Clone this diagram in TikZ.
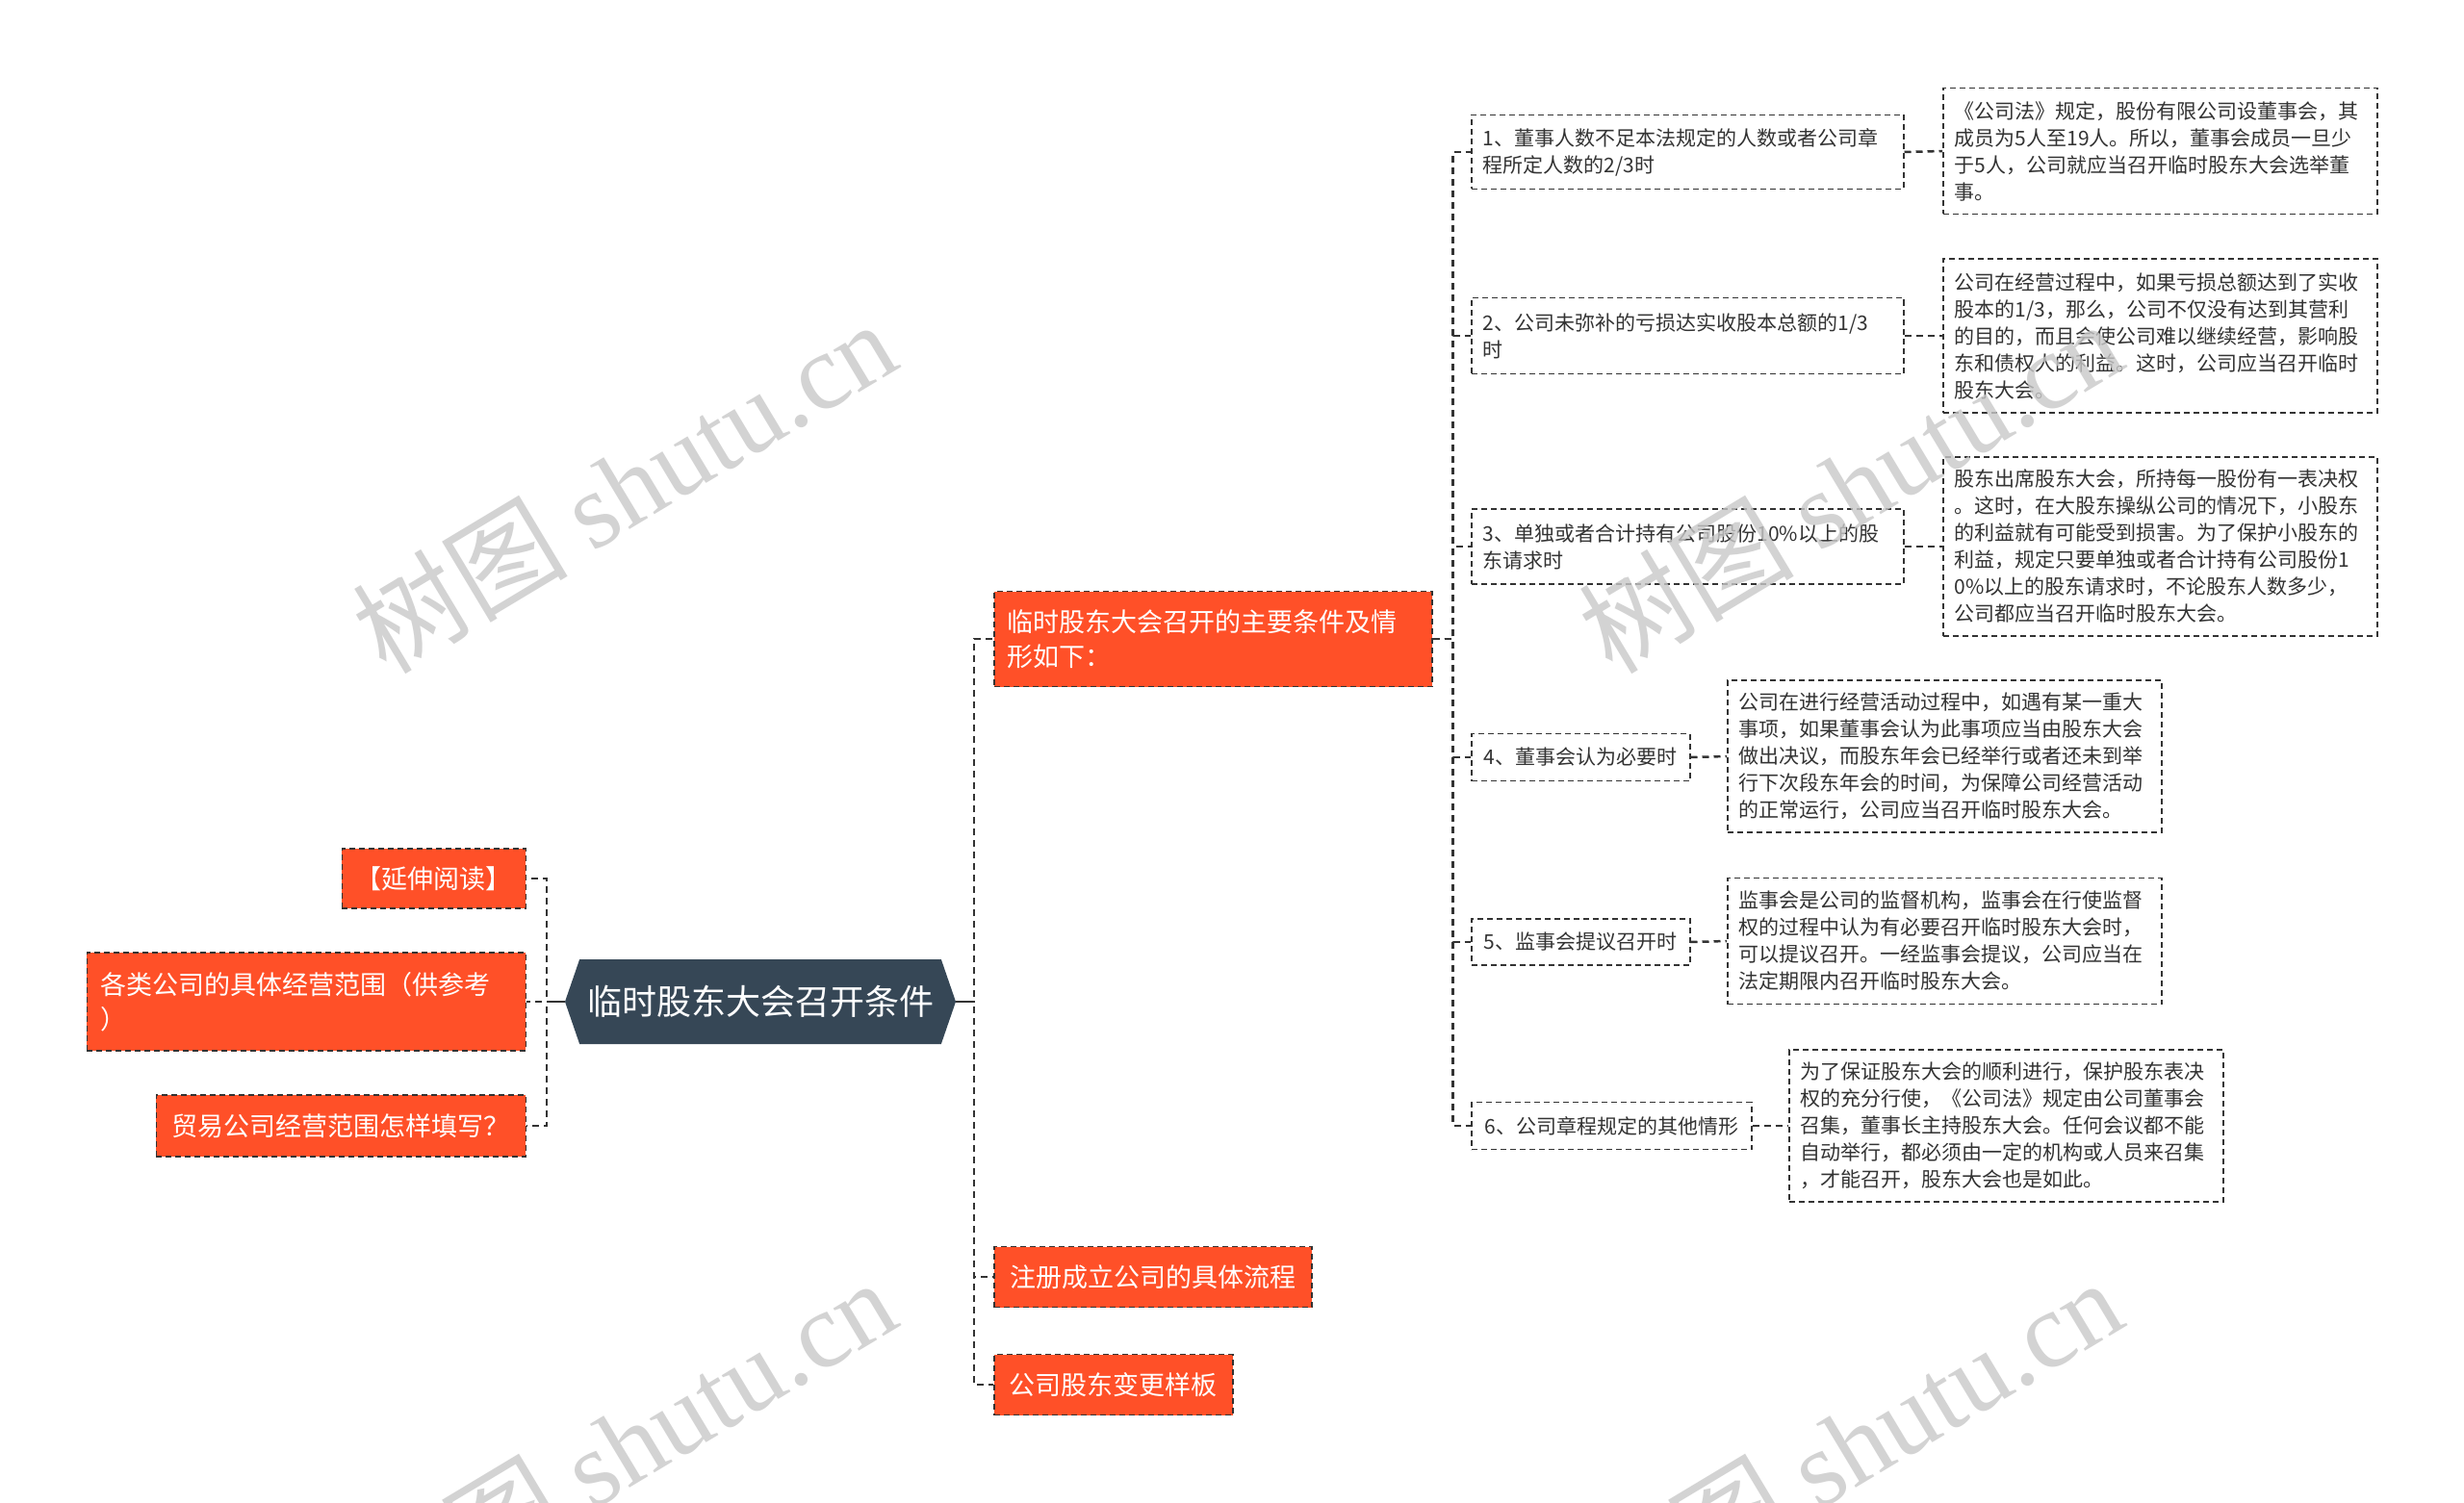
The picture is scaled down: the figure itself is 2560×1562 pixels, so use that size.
\documentclass[tikz,border=0pt]{standalone}
\usepackage{fontspec}
\setmainfont{Noto Sans CJK SC}
\newfontfamily\marklatin{Liberation Serif}
\usepackage{tikz}
\usetikzlibrary{shapes.symbols}
\definecolor{rootslate}{RGB}{54,71,86}
\definecolor{topicorange}{RGB}{255,80,40}
\definecolor{linegray}{RGB}{51,51,51}
\definecolor{textgray}{RGB}{51,51,51}
\definecolor{markgray}{RGB}{200,200,200}

\tikzset{
  rootbox/.style={signal, signal to=west and east, signal pointer angle=142,
        fill=rootslate, text=white, font=\fontsize{36}{44}\selectfont,
        minimum width=406pt, minimum height=88pt, inner xsep=0pt},
  topicbox/.style={rectangle, draw=linegray, line width=1.5pt,
        dash pattern=on 6pt off 4pt, fill=topicorange, text=white,
        font=\fontsize{27}{36}\selectfont, align=left, inner xsep=14pt, inner ysep=0pt},
  condbox/.style={rectangle, draw=linegray, line width=1.5pt,
        dash pattern=on 6pt off 4pt, fill=white, text=textgray,
        font=\fontsize{21}{28}\selectfont, align=left, inner xsep=12pt, inner ysep=0pt},
  link/.style={draw=linegray, line width=2.5pt, dash pattern=on 7pt off 5pt},
  markbox/.style={text=markgray, opacity=0.8, rotate=31,
        font=\fontsize{112}{112}\selectfont}
}

\begin{document}
\begin{tikzpicture}[x=1pt, y=-1pt]
  \fill[white] (0,0) rectangle (2560,1562);
  \useasboundingbox (0,0) rectangle (2560,1562);

  % centre
  \node[rootbox] (root) at (790,1041) {临时股东大会召开条件};

  % left side
  \node[topicbox, anchor=east, minimum width=191pt, minimum height=62pt] (more) at (547,913)
        {【延伸阅读】};
  \node[topicbox, anchor=east, text width=428pt, minimum height=102pt] (scope) at (547,1041)
        {各类公司的具体经营范围（供参考\\）};
  \node[topicbox, anchor=east, minimum width=384pt, minimum height=64pt] (trade) at (547,1170)
        {贸易公司经营范围怎样填写？};

  % right side
  \node[topicbox, anchor=west, text width=427pt, minimum height=99pt] (cond) at (1032,664)
        {临时股东大会召开的主要条件及情\\形如下：};
  \node[topicbox, anchor=west, minimum width=330pt, minimum height=63pt] (setup) at (1032,1327)
        {注册成立公司的具体流程};
  \node[topicbox, anchor=west, minimum width=248pt, minimum height=63pt] (change) at (1032,1439)
        {公司股东变更样板};

  % conditions
  \node[condbox, anchor=west, text width=425pt, minimum height=77pt] (c1) at (1528,158)
        {1、董事人数不足本法规定的人数或者公司章\\程所定人数的2/3时};
  \node[condbox, anchor=west, text width=425pt, minimum height=79pt] (c2) at (1528,349)
        {2、公司未弥补的亏损达实收股本总额的1/3\\时};
  \node[condbox, anchor=west, text width=425pt, minimum height=78pt] (c3) at (1528,568)
        {3、单独或者合计持有公司股份10\%以上的股\\东请求时};
  \node[condbox, anchor=west, minimum width=227pt, minimum height=49pt] (c4) at (1528,787)
        {4、董事会认为必要时};
  \node[condbox, anchor=west, minimum width=227pt, minimum height=48pt] (c5) at (1528,979)
        {5、监事会提议召开时};
  \node[condbox, anchor=west, minimum width=291pt, minimum height=49pt] (c6) at (1528,1170)
        {6、公司章程规定的其他情形};

  % explanations
  \node[condbox, anchor=west, text width=427pt, minimum height=131pt] (d1) at (2018,157)
        {《公司法》规定，股份有限公司设董事会，其\\成员为5人至19人。所以，董事会成员一旦少\\
         于5人，公司就应当召开临时股东大会选举董\\事。};
  \node[condbox, anchor=west, text width=427pt, minimum height=160pt] (d2) at (2018,349)
        {公司在经营过程中，如果亏损总额达到了实收\\股本的1/3，那么，公司不仅没有达到其营利\\
         的目的，而且会使公司难以继续经营，影响股\\东和债权人的利益。这时，公司应当召开临时\\
         股东大会。};
  \node[condbox, anchor=west, text width=427pt, minimum height=186pt] (d3) at (2018,568)
        {股东出席股东大会，所持每一股份有一表决权\\。这时，在大股东操纵公司的情况下，小股东\\
         的利益就有可能受到损害。为了保护小股东的\\利益，规定只要单独或者合计持有公司股份1\\
         0\%以上的股东请求时，不论股东人数多少，\\公司都应当召开临时股东大会。};
  \node[condbox, anchor=west, text width=427pt, minimum height=158pt] (d4) at (1794,786)
        {公司在进行经营活动过程中，如遇有某一重大\\事项，如果董事会认为此事项应当由股东大会\\
         做出决议，而股东年会已经举行或者还未到举\\行下次段东年会的时间，为保障公司经营活动\\
         的正常运行，公司应当召开临时股东大会。};
  \node[condbox, anchor=west, text width=427pt, minimum height=131pt] (d5) at (1794,978)
        {监事会是公司的监督机构，监事会在行使监督\\权的过程中认为有必要召开临时股东大会时，\\
         可以提议召开。一经监事会提议，公司应当在\\法定期限内召开临时股东大会。};
  \node[condbox, anchor=west, text width=427pt, minimum height=158pt] (d6) at (1858,1170)
        {为了保证股东大会的顺利进行，保护股东表决\\权的充分行使，《公司法》规定由公司董事会\\
         召集，董事长主持股东大会。任何会议都不能\\自动举行，都必须由一定的机构或人员来召集\\
         ，才能召开，股东大会也是如此。};

  % connectors
  \draw[linegray, line width=2.5pt] (root.west) -- ++(-19,0);
  \draw[linegray, line width=2.5pt] (root.east) -- ++(19,0);
  \foreach \k in {more,scope,trade}
    \draw[link] (root.west) -- ++(-19,0) |- (\k.east);
  \foreach \k in {cond,setup,change}
    \draw[link] (root.east) -- ++(19,0) |- (\k.west);
  \foreach \k in {1,...,6}
    \draw[link] (cond.east) -- ++(21,0) |- (c\k.west);
  \foreach \k in {1,...,6}
    \draw[link] (c\k.east) -- (d\k.west);

  % watermark
  \foreach \wx/\wy [count=\n] in {648/505, 1922/505, 648/1501, 1922/1501}
    \node[markbox] (mark\n) at (\wx,\wy) {树图 {\marklatin shutu.cn}};
\end{tikzpicture}
\end{document}
